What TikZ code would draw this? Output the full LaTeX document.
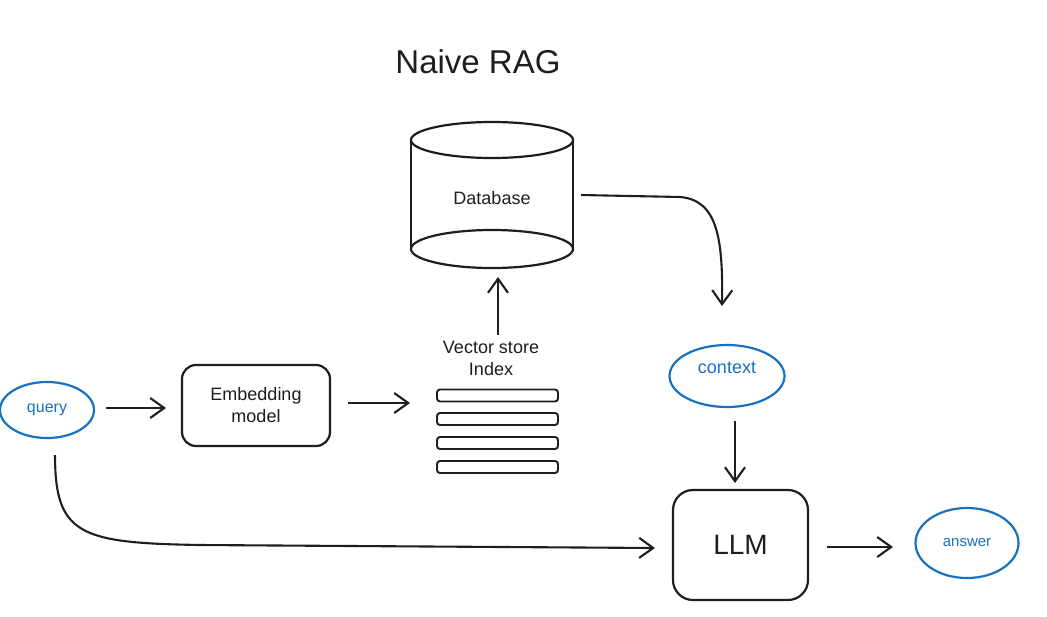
\documentclass[tikz,border=0pt]{standalone}
\usepackage{fontspec}
\setmainfont{Liberation Sans}
\usetikzlibrary{arrows.meta,shapes.geometric}
\definecolor{ink}{HTML}{1E1E1E}
\definecolor{blueink}{HTML}{1971C2}
\tikzset{
  sk/.style={draw=ink, line width=2.2pt},
  arr/.style={draw=ink, line width=2.1pt, -{Straight Barb[length=14pt,width=20pt,line width=2.1pt]}},
  bluell/.style={ellipse, draw=blueink, line width=2.2pt, text=blueink, inner sep=0pt},
  lbl/.style={font=\fontsize{18}{22}\selectfont, text=ink, align=center},
  bar/.style={draw=ink, line width=1.9pt, rounded corners=3pt, minimum width=121pt, minimum height=12pt, inner sep=0pt}
}
\begin{document}
\begin{tikzpicture}[x=1pt,y=-1pt]
\useasboundingbox[fill=white] (0,0) rectangle (1047,616);

% title
\node[font=\fontsize{33}{36}\selectfont, text=ink] (title) at (478,62) {Naive RAG};

% database cylinder
\node[minimum width=164pt, minimum height=146pt, inner sep=0pt] (db) at (492,195) {};
\draw[sk] (492,140) ellipse [x radius=81, y radius=18];
\draw[sk] (411,140) -- (411,249);
\draw[sk] (573,140) -- (573,249);
\draw[sk] (492,249) ellipse [x radius=81, y radius=19];
\node[lbl] (dbl) at (492,198) {Database};

% vector store
\node[lbl, inner sep=1pt] (vs) at (491,358) {Vector store\\Index};
\node[bar] (b1) at (497.5,395.5) {};
\node[bar] (b2) at (497.5,419) {};
\node[bar] (b3) at (497.5,443) {};
\node[bar] (b4) at (497.5,467) {};

% embedding
\node[draw=ink, line width=2.2pt, rounded corners=14pt, minimum width=148pt, minimum height=81pt, lbl] (emb) at (256,405.5) {Embedding\\model};

% query
\node[bluell, minimum width=94pt, minimum height=56pt, font=\fontsize{16}{18}\selectfont] (query) at (47,410) {query};

% context
\node[bluell, minimum width=115pt, minimum height=62pt] (ctx) at (727,376) {};
\node[text=blueink, font=\fontsize{18}{20}\selectfont] (ctxl) at (727,368) {context};

% LLM
\node[draw=ink, line width=2.2pt, rounded corners=20pt, minimum width=135pt, minimum height=110pt, font=\fontsize{28}{30}\selectfont, text=ink] (llm) at (740.5,545) {LLM};

% answer
\node[bluell, minimum width=103pt, minimum height=70pt, font=\fontsize{15}{17}\selectfont] (ans) at (967,543) {answer};

% connectors
\coordinate (q1) at (106,408);
\coordinate (q2) at (166,408);
\draw[arr] (q1) -- (q2);
\coordinate (e1) at (348,403);
\coordinate (e2) at (410,403);
\draw[arr] (e1) -- (e2);
\draw[arr] (vs.north -| 498,0) ++(0,-5) -- (498,277);
\draw[arr] (581,195) -- (680,197) .. controls (718,200) and (723,240) .. (722,306);
\draw[arr] (735,421) -- (735,483);
\draw[arr] (827,547) -- (893,547);
\draw[arr] (55,455) .. controls (55,535) and (80,543) .. (200,545) -- (655,548);
\end{tikzpicture}
\end{document}
